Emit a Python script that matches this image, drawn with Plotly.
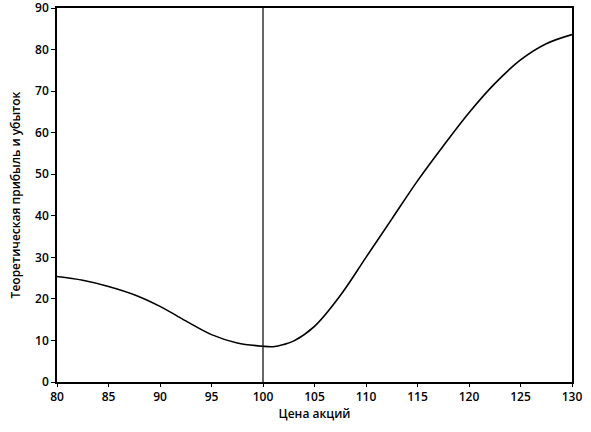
import plotly.graph_objects as go

# цена акций и теоретическая прибыль/убыток
price = [80, 82.5, 85, 87.5, 90, 92.5, 95, 97.5, 100, 101, 102, 103, 105,
         107.5, 110, 112.5, 115, 117.5, 120, 122.5, 125, 127.5, 130]
pnl = [25.4, 24.5, 23.0, 21.0, 18.2, 14.7, 11.4, 9.4, 8.6, 8.5, 9.0, 9.9, 13.4,
       20.8, 30.0, 39.2, 48.4, 56.8, 64.8, 71.8, 77.5, 81.4, 83.6]
strike = 100

FONT = 'Open Sans'


def main():
	fig = go.Figure()

	fig.add_trace(go.Scatter(
		x=price,
		y=pnl,
		mode='lines',
		line=dict(color='black', width=1.6, shape='spline', smoothing=1.0),
		showlegend=False))

	fig.add_vline(x=strike, line_color='black', line_width=1.2)

	axis_style = dict(
		showgrid=False, zeroline=False, automargin=False,
		showline=True, linecolor='black', linewidth=1.5, mirror=True,
		ticks='outside', tickcolor='black', tickwidth=1.2,
		ticklabeloverflow='allow',
		tickfont=dict(family=FONT, size=12, color='black', weight=600))

	fig.update_xaxes(range=[80, 130], dtick=5, ticklen=3,
		title=dict(text='Цена акций', standoff=4,
			font=dict(family=FONT, size=12, color='black', weight=600)),
		**axis_style)
	fig.update_yaxes(range=[0, 90], dtick=10, ticklen=4,
		title=dict(text='Теоретическая прибыль и убыток', standoff=12,
			font=dict(family=FONT, size=12, color='black', weight=600)),
		**axis_style)

	fig.update_layout(width=591, height=432,
		margin=dict(l=57, r=19, t=8, b=50),
		plot_bgcolor='white', paper_bgcolor='white')
	fig.write_html('out.html', config={'displayModeBar': False},
		post_script="document.body.style.margin='0';")


if __name__ == '__main__':
	main()
